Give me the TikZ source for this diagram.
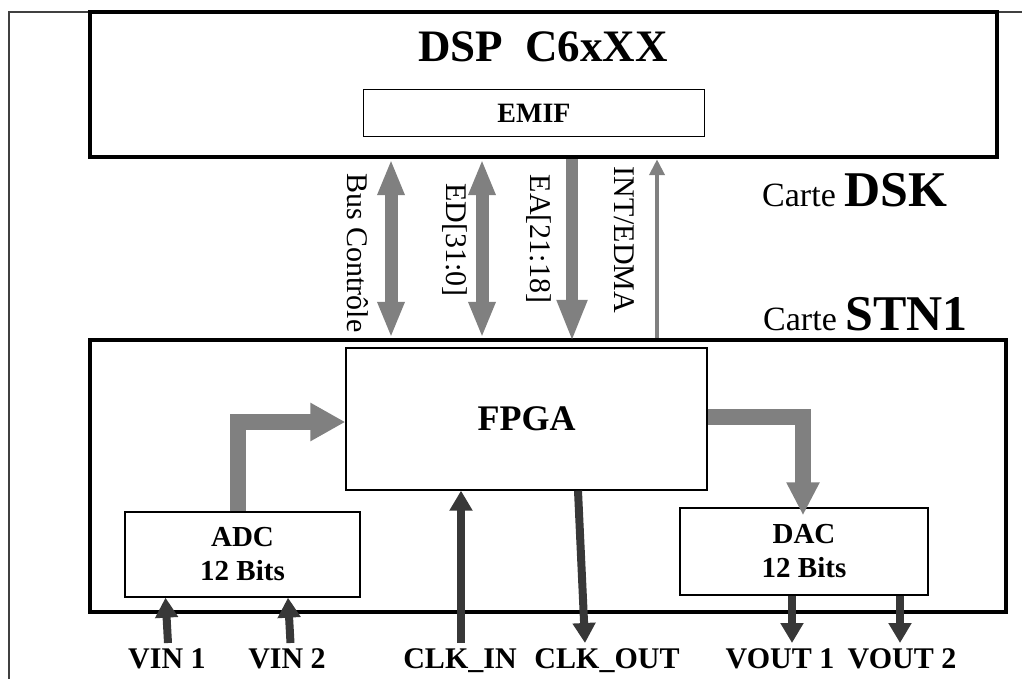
\documentclass[tikz,border=0pt]{standalone}
\usepackage{fontspec}
\setmainfont{Liberation Serif}
\usetikzlibrary{arrows.meta,calc}
\definecolor{arrgray}{HTML}{808080}
\definecolor{arrdark}{HTML}{383838}
\newcommand\myfs[2]{\fontsize{#1}{#2}\selectfont}
\begin{document}
\begin{tikzpicture}[x=1pt,y=-1pt,
  bigbox/.style={draw, line width=4.5pt, inner sep=0pt},
  smallbox/.style={draw, line width=1.3pt, inner sep=0pt, align=center},
  boxtext/.style={font=\myfs{29}{34}\bfseries},
  vlabel/.style={rotate=-90, font=\myfs{30}{34}, inner sep=0pt},
  blabel/.style={anchor=base, font=\myfs{30}{34}\bfseries, inner sep=0pt},
  garrow/.style={draw=arrgray, line width=#1},
  darrow/.style={draw=arrdark, line width=8pt, -{Triangle[length=20pt,width=22pt]}},
  bigtip/.style={-{Triangle[length=35pt,width=36pt]}, line join=miter}
]
\useasboundingbox (0,0) rectangle (1022,679);
% outer frame
\draw[line width=1.3pt, black!75] (9,679) -- (9,12) -- (1022,12);

% boxes
\node[bigbox, minimum width=907pt, minimum height=145pt] (dsp) at (543.5,84.5) {};
\node[anchor=base, font=\myfs{45}{50}\bfseries, inner sep=0pt] (dsptitle) at (543,62) {DSP\ \ C6xXX};
\node[smallbox, minimum width=341pt, minimum height=47pt, font=\myfs{28}{32}\bfseries] (emif) at (534,113) {EMIF};

\node[bigbox, minimum width=916pt, minimum height=272pt] (stn) at (548,476) {};
\node[smallbox, minimum width=361pt, minimum height=142pt, font=\myfs{36}{40}\bfseries] (fpga) at (526.5,419) {FPGA};
\node[smallbox, boxtext, minimum width=235pt, minimum height=85pt] (adc) at (242.5,554.5) {ADC\\12 Bits};
\node[smallbox, boxtext, minimum width=248pt, minimum height=87pt] (dac) at (804,551.5) {DAC\\12 Bits};

% board labels
\node[anchor=base west, inner sep=0pt] (cdsk) at (762,207) {\myfs{34}{40}Carte \myfs{50}{56}\bfseries DSK};
\node[anchor=base west, inner sep=0pt] (cstn) at (763,330) {\myfs{34}{40}Carte \myfs{50}{56}\bfseries STN1};

% vertical bus connectors
\coordinate (xbc) at (391,0);
\coordinate (xed) at (482,0);
\coordinate (xea) at (572,0);
\coordinate (xint) at (657,0);
\draw[garrow=13pt, {Triangle[length=36pt,width=25pt]}-{Triangle[length=36pt,width=25pt]}] (dsp.south -| xbc) -- (stn.north -| xbc);
\draw[garrow=13pt, {Triangle[length=36pt,width=25pt]}-{Triangle[length=36pt,width=25pt]}] (dsp.south -| xed) -- (stn.north -| xed);
\draw[garrow=12pt, -{Triangle[length=42pt,width=28pt]}] (dsp.south -| xea) -- ($(stn.north -| xea)+(0,4)$);
\draw[garrow=4pt, -{Triangle[length=16pt,width=15pt]}] (stn.north -| xint) -- (dsp.south -| xint);

\node[vlabel] (lbc) at (358,253) {Bus Contrôle};
\node[vlabel] (led) at (455,240) {ED[31:0]};
\node[vlabel] (lea) at (539,239) {EA[21:18]};
\node[vlabel] (lint) at (624,240) {INT/EDMA};

% L-shaped data arrows
\coordinate (ladc) at (238,422);
\draw[garrow=16pt, bigtip] (adc.north -| ladc) |- (fpga.west |- ladc);
\coordinate (ldac) at (803,417);
\draw[garrow=16pt, -{Triangle[length=33pt,width=31pt]}, line join=miter] (fpga.east |- ldac) -| ($(dac.north -| ldac)+(0,8)$);

% signal arrows
\coordinate (vin1) at (168,643);  \coordinate (vin1x) at (165.5,0);
\coordinate (vin2) at (290.5,643); \coordinate (vin2x) at (288,0);
\coordinate (clkin) at (461,643);
\coordinate (clkout) at (585,643); \coordinate (clkoutx) at (578,0);
\coordinate (vout1) at (792,643);
\coordinate (vout2) at (900,643);
\draw[darrow] (vin1) -- (adc.south -| vin1x);
\draw[darrow] (vin2) -- (adc.south -| vin2x);
\draw[darrow] (clkin) -- (fpga.south -| clkin);
\draw[darrow] (fpga.south -| clkoutx) -- (clkout);
\draw[darrow] (dac.south -| vout1) -- (vout1);
\draw[darrow] (dac.south -| vout2) -- (vout2);

% bottom labels
\node[blabel] (lvin1) at (167,668) {VIN 1};
\node[blabel] (lvin2) at (287,668) {VIN 2};
\node[blabel] (lclkin) at (460,668) {CLK\_IN};
\node[blabel] (lclkout) at (607,668) {CLK\_OUT};
\node[blabel] (lvout1) at (780,668) {VOUT 1};
\node[blabel] (lvout2) at (902,668) {VOUT 2};
\end{tikzpicture}
\end{document}
